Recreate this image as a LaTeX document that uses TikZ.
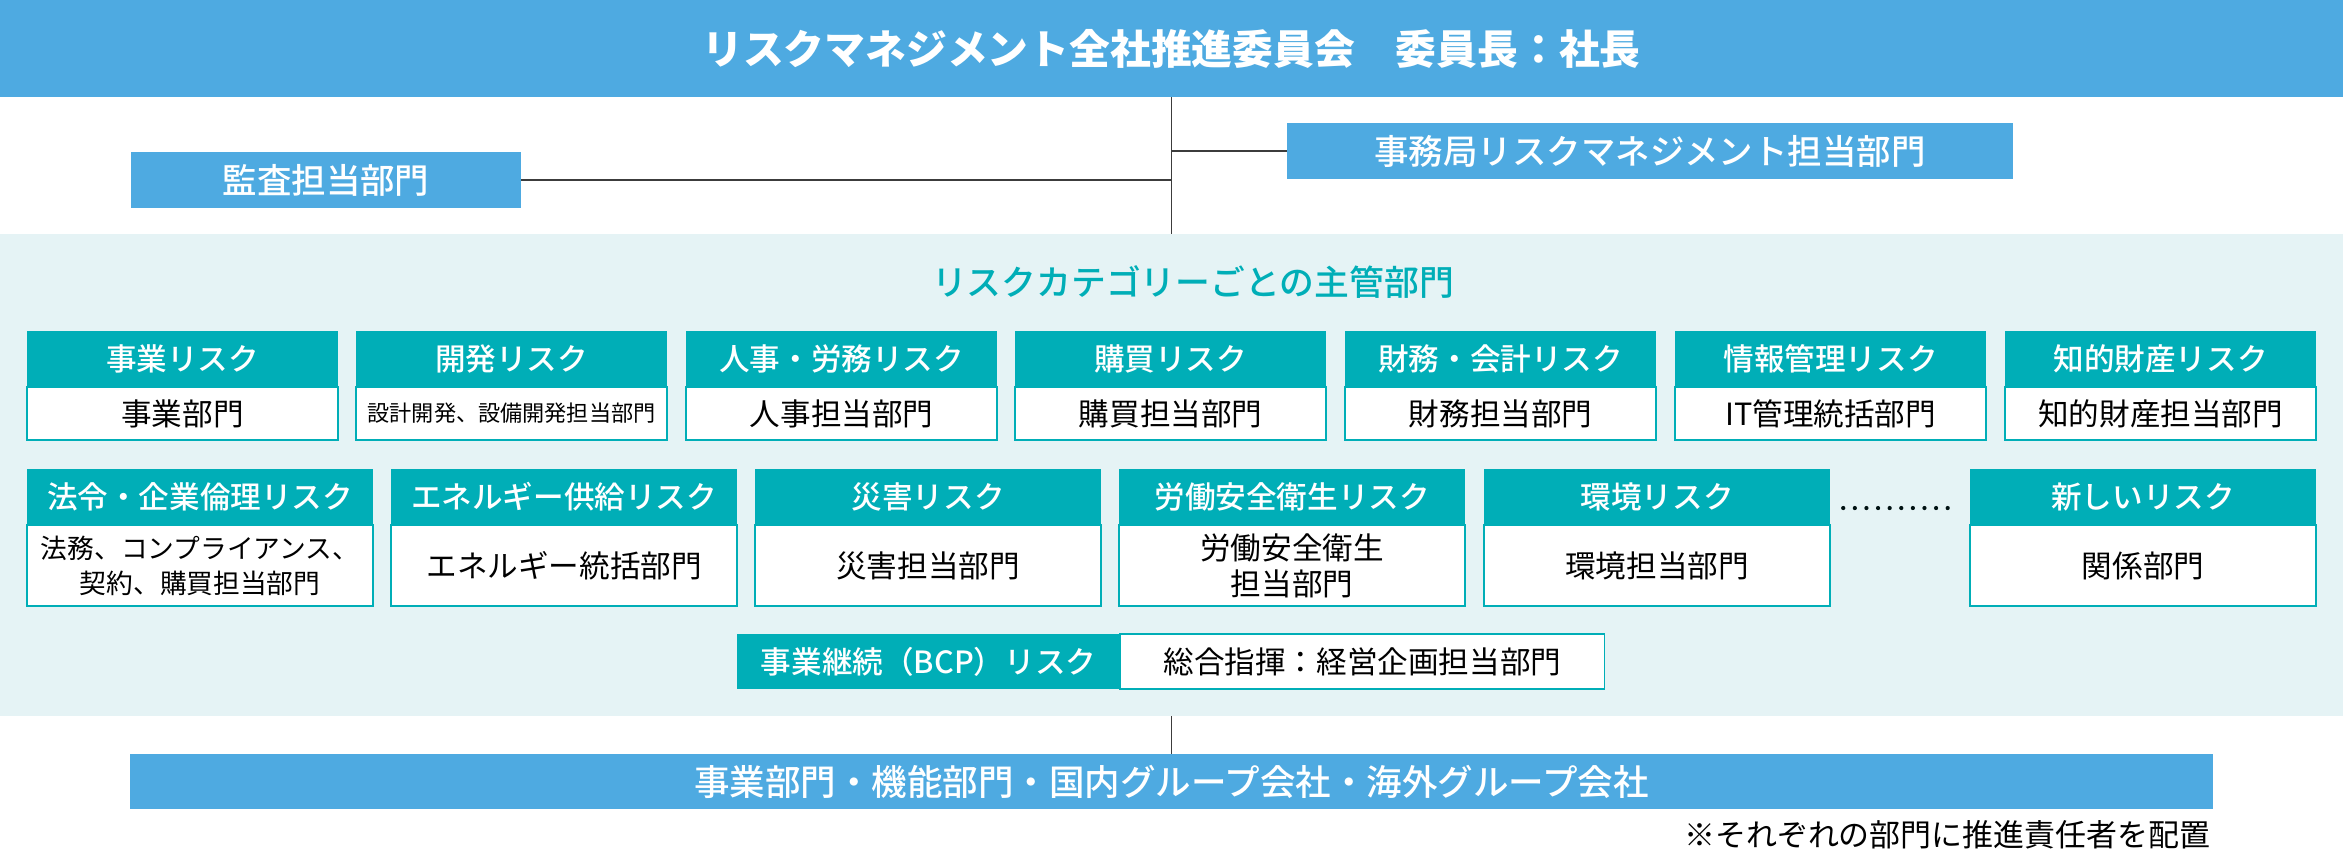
\documentclass[tikz,border=0pt]{standalone}
\usepackage{fontspec}
\setmainfont{Noto Sans CJK JP}
\newfontfamily\jpmed{Noto Sans CJK JP Medium}
\usepackage{xcolor}
\usetikzlibrary{positioning}

\definecolor{bannerblue}{RGB}{78,170,225}
\definecolor{riskteal}{RGB}{0,174,183}
\definecolor{catbgcol}{RGB}{229,243,245}
\definecolor{linegray}{RGB}{60,60,60}

\begin{document}
\begin{tikzpicture}[x=0.01cm, y=-0.01cm,
    banner/.style={fill=bannerblue, text=white, inner sep=0pt, outer sep=0pt},
    unit/.style={fill=bannerblue, text=white, inner sep=0pt, outer sep=0pt, minimum height=0.55cm, font=\jpmed\fontsize{9.8pt}{12pt}\selectfont},
    cathead/.style={fill=riskteal, text=white, anchor=north west, inner sep=0pt, outer sep=0pt, minimum height=0.56cm, font=\jpmed\fontsize{8.7pt}{10pt}\selectfont},
    catbody/.style={fill=white, draw=riskteal, line width=0.5pt, inner sep=0pt, outer sep=0pt, align=center, font=\fontsize{8.7pt}{10.2pt}\selectfont},
    rowone/.style={minimum width=3.11cm},
    rowtwo/.style={minimum width=3.46cm},
    link/.style={draw=linegray, line width=0.45pt}]
      \useasboundingbox (0,0) rectangle (2343,854);

      % Committee and support units
      \node[banner, minimum width=23.43cm, minimum height=0.97cm, font=\bfseries\fontsize{11.6pt}{14pt}\selectfont] (top) at (1171.5, 48.5) {リスクマネジメント全社推進委員会　委員長：社長};
      \node[unit, minimum width=3.9cm] (audit) at (326, 180) {監査担当部門};
      \node[unit, minimum width=7.26cm] (office) at (1650, 151) {事務局リスクマネジメント担当部門};

      % Risk categories
      \node[fill=catbgcol, inner sep=0pt, outer sep=0pt, minimum width=23.43cm, minimum height=4.82cm] (catbg) at (1171.5, 475) {};
      \node[text=riskteal, font=\jpmed\fontsize{9.9pt}{12pt}\selectfont] (cattitle) at (1193, 282) {リスクカテゴリーごとの主管部門};

      \node[cathead, rowone] (h11) at (27, 331) {事業リスク};
      \node[catbody, rowone, minimum height=0.53cm, below=0pt of h11] (b11) {事業部門};
      \node[cathead, rowone] (h12) at (356, 331) {開発リスク};
      \node[catbody, rowone, minimum height=0.53cm, below=0pt of h12, font=\fontsize{6.3pt}{8pt}\selectfont] (b12) {設計開発、設備開発担当部門};
      \node[cathead, rowone] (h13) at (686, 331) {人事・労務リスク};
      \node[catbody, rowone, minimum height=0.53cm, below=0pt of h13] (b13) {人事担当部門};
      \node[cathead, rowone] (h14) at (1015, 331) {購買リスク};
      \node[catbody, rowone, minimum height=0.53cm, below=0pt of h14] (b14) {購買担当部門};
      \node[cathead, rowone] (h15) at (1345, 331) {財務・会計リスク};
      \node[catbody, rowone, minimum height=0.53cm, below=0pt of h15] (b15) {財務担当部門};
      \node[cathead, rowone] (h16) at (1675, 331) {情報管理リスク};
      \node[catbody, rowone, minimum height=0.53cm, below=0pt of h16] (b16) {IT管理統括部門};
      \node[cathead, rowone] (h17) at (2005, 331) {知的財産リスク};
      \node[catbody, rowone, minimum height=0.53cm, below=0pt of h17] (b17) {知的財産担当部門};

      \node[cathead, rowtwo] (h21) at (27, 469) {法令・企業倫理リスク};
      \node[catbody, rowtwo, minimum height=0.81cm, below=0pt of h21, font=\fontsize{7.6pt}{10pt}\selectfont] (b21) {法務、コンプライアンス、\\契約、購買担当部門};
      \node[cathead, rowtwo] (h22) at (391, 469) {エネルギー供給リスク};
      \node[catbody, rowtwo, minimum height=0.81cm, below=0pt of h22] (b22) {エネルギー統括部門};
      \node[cathead, rowtwo] (h23) at (755, 469) {災害リスク};
      \node[catbody, rowtwo, minimum height=0.81cm, below=0pt of h23] (b23) {災害担当部門};
      \node[cathead, rowtwo] (h24) at (1119, 469) {労働安全衛生リスク};
      \node[catbody, rowtwo, minimum height=0.81cm, below=0pt of h24] (b24) {労働安全衛生\\担当部門};
      \node[cathead, rowtwo] (h25) at (1484, 469) {環境リスク};
      \node[catbody, rowtwo, minimum height=0.81cm, below=0pt of h25] (b25) {環境担当部門};
      \node[cathead, rowtwo] (h26) at (1970, 469) {新しいリスク};
      \node[catbody, rowtwo, minimum height=0.81cm, below=0pt of h26] (b26) {関係部門};

      \draw[riskteal!10!black, line width=1.2pt, line cap=round, dash pattern=on 0pt off 3.3pt, shorten <=0.13cm, shorten >=0.11cm]
        ([yshift=-0.11cm]h25.east) -- ([yshift=-0.11cm]h26.west);

      % Business continuity
      \node[cathead, minimum width=3.83cm, minimum height=0.55cm] (bcp) at (737, 634) {事業継続（BCP）リスク};
      \node[catbody, minimum width=4.84cm, minimum height=0.55cm, right=0pt of bcp] (bcpbody) {総合指揮：経営企画担当部門};

      % Group companies
      \node[banner, minimum width=20.81cm, minimum height=0.55cm, font=\jpmed\fontsize{10.1pt}{12pt}\selectfont] (base) at (1171.5, 781.5) {事業部門・機能部門・国内グループ会社・海外グループ会社};
      \node[anchor=east, inner sep=0pt, font=\fontsize{8.8pt}{10pt}\selectfont] (note) at (2211, 835) {※それぞれの部門に推進責任者を配置};

      % Lines
      \draw[link] (top.south) -- (catbg.north);
      \draw[link] (audit.east) -- (audit.east -| top.south);
      \draw[link] (office.west) -- (office.west -| top.south);
      \draw[link] (catbg.south) -- (base.north);
    \end{tikzpicture}
\end{document}
